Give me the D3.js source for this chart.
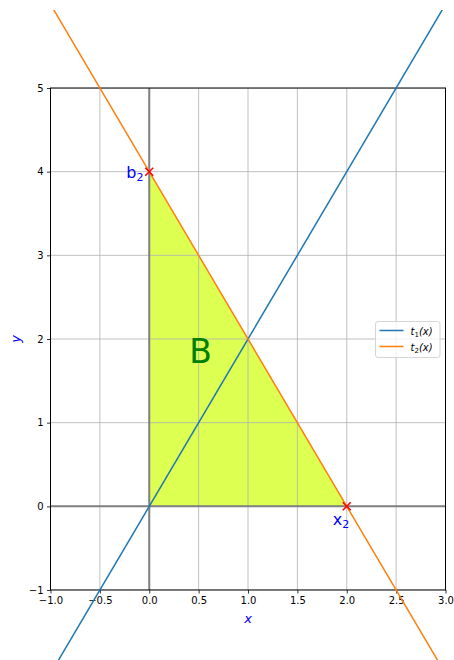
<!DOCTYPE html>
<html>
<head>
<meta charset="utf-8">
<script src="https://cdn.jsdelivr.net/npm/d3@7"></script>
<style>
  body { margin: 0; background: #fff; }
  svg { display: block; font-family: "DejaVu Sans", sans-serif; }
</style>
</head>
<body>
<div id="chart"></div>
<script>
// chart data
var xTicks = [-1.0, -0.5, 0.0, 0.5, 1.0, 1.5, 2.0, 2.5, 3.0];
var yTicks = [-1, 0, 1, 2, 3, 4, 5];
var t1Points = [[-1, -2], [3, 6]];
var t2Points = [[-1, 6], [3, -2]];
var regionB = [[0, 0], [0, 4], [2, 0]];
var crossPoints = [[0, 4], [2, 0]];
var seriesNames = ['t1', 't2'];

var svgWidth = 454, svgHeight = 660;
var pLeft = 50.5, pRight = 445.5, pTop = 88, pBottom = 590;

var x = d3.scaleLinear().domain([-1, 3]).range([pLeft, pRight]);
var y = d3.scaleLinear().domain([-1, 5]).range([pBottom, pTop]);

var color = d3.scaleOrdinal().domain(seriesNames).range(['#1f77b4', '#ff7f0e']);

var svg = d3.select('#chart').append('svg')
	.attr('width', svgWidth)
	.attr('height', svgHeight);

var defs = svg.append('defs');
defs.append('clipPath').attr('id', 'plotClip').append('rect')
	.attr('x', pLeft).attr('y', pTop).attr('width', pRight - pLeft).attr('height', pBottom - pTop);
defs.append('clipPath').attr('id', 'figClip').append('rect')
	.attr('x', 0).attr('y', 10).attr('width', svgWidth).attr('height', svgHeight - 10);

var plot = svg.append('g').attr('clip-path', 'url(#plotClip)');

// shaded triangle
plot.append('path')
	.datum(regionB)
	.attr('d', d3.line().x(function(d) { return x(d[0]); }).y(function(d) { return y(d[1]); }).curve(d3.curveLinearClosed))
	.style('fill', '#dcff52')
	.style('stroke', 'none');

// grid
plot.selectAll('.gx').data(xTicks).enter().append('line')
	.attr('x1', function(d) { return x(d); }).attr('x2', function(d) { return x(d); })
	.attr('y1', pTop).attr('y2', pBottom)
	.style('stroke', '#b0b0b0').style('stroke-width', 0.8);
plot.selectAll('.gy').data(yTicks).enter().append('line')
	.attr('y1', function(d) { return y(d); }).attr('y2', function(d) { return y(d); })
	.attr('x1', pLeft).attr('x2', pRight)
	.style('stroke', '#b0b0b0').style('stroke-width', 0.8);

// axes through origin
plot.append('line')
	.attr('x1', pLeft).attr('x2', pRight).attr('y1', y(0)).attr('y2', y(0))
	.style('stroke', '#808080').style('stroke-width', 2);
plot.append('line')
	.attr('x1', x(0)).attr('x2', x(0)).attr('y1', pTop).attr('y2', pBottom)
	.style('stroke', '#808080').style('stroke-width', 2);

// B label
svg.append('text')
	.attr('x', x(0.52)).attr('y', y(1.85))
	.attr('dy', '0.36em')
	.style('text-anchor', 'middle')
	.style('font-size', '33px')
	.style('fill', 'green')
	.text('B');

// spines + ticks
var xAxis = svg.append('g').attr('transform', 'translate(0,' + pBottom + ')')
	.call(d3.axisBottom(x).tickValues(xTicks).tickSize(3.5).tickPadding(3.5).tickFormat(d3.format('.1f')));
var yAxis = svg.append('g').attr('transform', 'translate(' + pLeft + ',0)')
	.call(d3.axisLeft(y).tickValues(yTicks).tickSize(3.5).tickPadding(3.5).tickFormat(d3.format('d')));
[xAxis, yAxis].forEach(function(a) {
	a.select('.domain').remove();
	a.selectAll('text').style('font-size', '10px').style('font-family', '"DejaVu Sans", sans-serif').style('fill', '#000');
	a.selectAll('line').style('stroke', '#000').style('stroke-width', 0.8);
});
svg.append('rect')
	.attr('x', pLeft).attr('y', pTop).attr('width', pRight - pLeft).attr('height', pBottom - pTop)
	.style('fill', 'none').style('stroke', '#000').style('stroke-width', 1);

// lines (not clipped to the axes)
var lineGen = d3.line().x(function(d) { return x(d[0]); }).y(function(d) { return y(d[1]); });
var lines = svg.append('g').attr('clip-path', 'url(#figClip)');
lines.append('path').datum(t1Points).attr('d', lineGen)
	.style('fill', 'none').style('stroke', color('t1')).style('stroke-width', 1.5);
lines.append('path').datum(t2Points).attr('d', lineGen)
	.style('fill', 'none').style('stroke', color('t2')).style('stroke-width', 1.5);

// red crosses
var cs = 4;
svg.selectAll('.cross').data(crossPoints).enter().append('path')
	.attr('d', function(d) {
		var cx = x(d[0]), cy = y(d[1]);
		return 'M' + (cx - cs) + ',' + (cy - cs) + 'L' + (cx + cs) + ',' + (cy + cs) +
			'M' + (cx - cs) + ',' + (cy + cs) + 'L' + (cx + cs) + ',' + (cy - cs);
	})
	.style('stroke', 'red').style('stroke-width', 1.5).style('fill', 'none');

// point labels
var b2 = svg.append('text')
	.attr('x', x(0) - 23).attr('y', y(4) + 6)
	.style('font-size', '16px').style('fill', 'blue');
b2.append('tspan').text('b');
b2.append('tspan').attr('dy', 3).style('font-size', '11px').text('2');

var x2 = svg.append('text')
	.attr('x', x(2) - 14).attr('y', y(0) + 19)
	.style('font-size', '16px').style('fill', 'blue');
x2.append('tspan').text('x');
x2.append('tspan').attr('dy', 3).style('font-size', '11px').text('2');

// axis labels
svg.append('text')
	.attr('x', (pLeft + pRight) / 2).attr('y', 623)
	.style('text-anchor', 'middle').style('font-size', '13px')
	.style('font-style', 'italic').style('fill', 'blue')
	.text('x');
svg.append('text')
	.attr('transform', 'translate(20,' + ((pTop + pBottom) / 2) + ') rotate(-90)')
	.style('text-anchor', 'middle').style('font-size', '13px')
	.style('font-style', 'italic').style('fill', 'blue')
	.text('y');

// legend
var legend = svg.append('g').attr('transform', 'translate(375.5,321.5)');
legend.append('rect')
	.attr('width', 64.5).attr('height', 36).attr('rx', 2.5)
	.style('fill', 'rgba(255,255,255,0.8)').style('stroke', '#d5d5d5').style('stroke-width', 1);
var item = legend.selectAll('.item').data(seriesNames).enter().append('g')
	.attr('transform', function(d, i) { return 'translate(0,' + (9 + i * 16) + ')'; });
item.append('line')
	.attr('x1', 4).attr('x2', 28)
	.style('stroke', function(d) { return color(d); }).style('stroke-width', 1.5);
var lt = item.append('text')
	.attr('x', 35).attr('y', 4)
	.style('font-size', '10px').style('font-style', 'italic').style('fill', '#000');
lt.append('tspan').text('t');
lt.append('tspan').attr('dy', 2).style('font-size', '7px').style('font-style', 'normal')
	.text(function(d) { return d.slice(1); });
lt.append('tspan').attr('dy', -2).text('(x)');
</script>
</body>
</html>
